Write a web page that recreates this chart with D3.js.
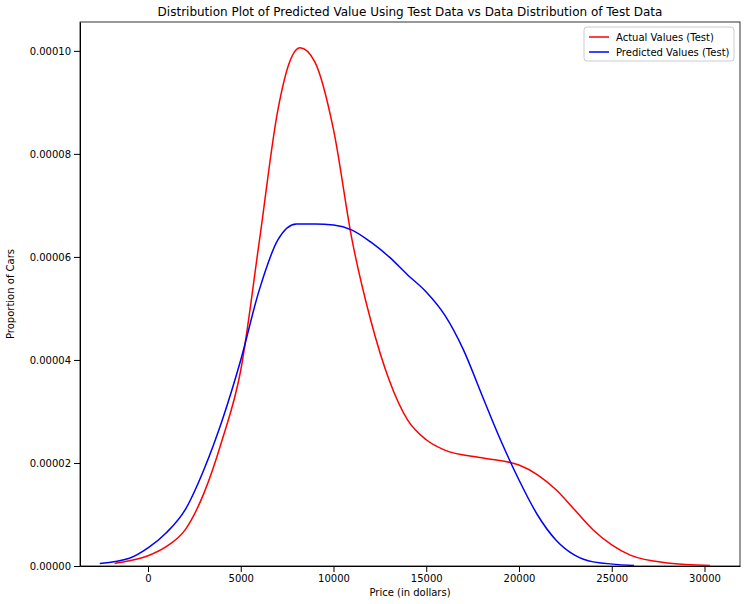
<!DOCTYPE html>
<html><head><meta charset="utf-8">
<script src="https://cdn.jsdelivr.net/npm/d3@7"></script>
<style>body{margin:0;background:#fff;font-family:"DejaVu Sans",sans-serif}</style>
</head><body><svg id="canvas" width="745" height="604"></svg>
<script>
let actualX = [-1800,-1000,0,1000,2000,3000,4000,5000,6000,7000,7600,8200,9000,10000,11000,12000,13000,14000,15000,16000,18000,20000,21000,22000,23000,24000,25000,26000,28000,30300];
let actualY = [0.0000005,0.000001,0.000002,0.0000038,0.000007,0.000014,0.0000245,0.000038,0.000063,0.0000885,0.0000975,0.0001006,0.0000978,0.0000847,0.0000633,0.0000478,0.0000361,0.0000283,0.0000245,0.0000225,0.000021,0.0000196,0.0000177,0.0000148,0.0000109,0.000007,0.0000041,0.0000021,0.0000006,0.0000001];
let predX = [-2600,-1000,0,1000,2000,3000,4000,5000,6000,7000,8000,9000,10000,11000,12000,13000,14000,15000,16000,17000,18000,19000,20000,21000,22000,23000,24000,26200];
let predY = [0.0000005,0.0000015,0.0000035,0.0000065,0.0000109,0.0000186,0.0000283,0.00004,0.0000536,0.0000633,0.0000664,0.0000664,0.0000662,0.0000652,0.0000629,0.00006,0.0000565,0.0000532,0.0000487,0.000042,0.0000332,0.0000245,0.0000167,0.0000099,0.000005,0.0000021,0.0000008,0.0000001];
let xTicks = [0,5000,10000,15000,20000,25000,30000];
let yTicks = [0,0.00002,0.00004,0.00006,0.00008,0.0001];

let canvas = d3.select('#canvas');
let mLeft = 80, mRight = 740, mTop = 22, mBottom = 566;
let x = d3.scaleLinear().domain([-3666, 31914]).range([mLeft, mRight]);
let y = d3.scaleLinear().domain([0, 0.0001056]).range([mBottom, mTop]);

canvas.append('g').attr('transform', `translate(0,${mBottom})`)
    .call(d3.axisBottom(x).tickValues(xTicks).tickFormat(d3.format('d')).tickSizeOuter(0))
    .attr('font-size', 10).attr('font-family', 'DejaVu Sans');
canvas.append('g').attr('transform', `translate(${mLeft},0)`)
    .call(d3.axisLeft(y).tickValues(yTicks).tickFormat(d3.format('.5f')).tickSizeOuter(0))
    .attr('font-size', 10).attr('font-family', 'DejaVu Sans');
canvas.append('rect').attr('x', mLeft).attr('y', mTop).attr('width', mRight - mLeft).attr('height', mBottom - mTop)
    .attr('fill', 'none').attr('stroke', '#000').attr('stroke-width', 0.8);

let line = d3.line().x(d => x(d[0])).y(d => y(d[1])).curve(d3.curveMonotoneX);
canvas.append('path').datum(d3.zip(actualX, actualY)).attr('d', line)
    .attr('fill', 'none').attr('stroke', 'red').attr('stroke-width', 1.5);
canvas.append('path').datum(d3.zip(predX, predY)).attr('d', line)
    .attr('fill', 'none').attr('stroke', 'blue').attr('stroke-width', 1.5);

canvas.append('text').attr('x', (mLeft + mRight) / 2).attr('y', 16).attr('text-anchor', 'middle')
    .attr('font-size', 12).text('Distribution  Plot of  Predicted Value Using Test Data vs Data Distribution of Test Data');
canvas.append('text').attr('x', (mLeft + mRight) / 2).attr('y', 596).attr('text-anchor', 'middle')
    .attr('font-size', 10).text('Price (in dollars)');
canvas.append('text').attr('transform', `translate(14,${(mTop + mBottom) / 2}) rotate(-90)`).attr('text-anchor', 'middle')
    .attr('font-size', 10).text('Proportion of Cars');

let legend = canvas.append('g').attr('transform', 'translate(584,27)');
legend.append('rect').attr('width', 150).attr('height', 34).attr('rx', 3)
    .attr('fill', '#fff').attr('stroke', '#ccc');
[['Actual Values (Test)', 'red'], ['Predicted Values (Test)', 'blue']].forEach((d, i) => {
    legend.append('line').attr('x1', 5).attr('x2', 25).attr('y1', 10 + i * 15).attr('y2', 10 + i * 15)
        .attr('stroke', d[1]).attr('stroke-width', 1.5);
    legend.append('text').attr('x', 32).attr('y', 14 + i * 15).attr('font-size', 10).text(d[0]);
});
</script></body></html>
